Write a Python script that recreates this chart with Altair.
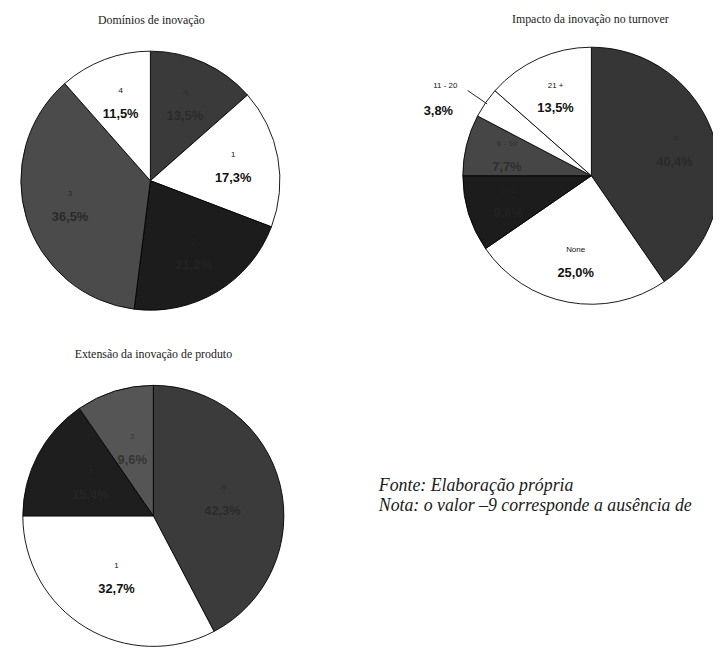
import json
import altair as alt
import pandas as pd

# ---- data ----
cats1 = ["-9", "1", "2", "3", "4"]
vals1 = [13.5, 17.3, 21.2, 36.5, 11.5]

cats2 = ["-9", "None", "1 - 5", "6 - 10", "11 - 20", "21 +"]
vals2 = [40.4, 25.0, 9.6, 7.7, 3.8, 13.5]
outside2 = ["11 - 20"]

cats3 = ["-9", "1", "2", "3"]
vals3 = [42.3, 32.7, 15.4, 9.6]

titles = ["Domínios de inovação", "Impacto da inovação no turnover",
          "Extensão da inovação de produto"]
notes = ["Fonte: Elaboração própria",
         "Nota: o valor –9 corresponde a ausência de"]

# ---- styles ----
cols1 = ["#3a3a3a", "#ffffff", "#1c1c1c", "#4b4b4b", "#ffffff"]
tcols1 = ["#2c2c2c", "#111111", "#222222", "#2a2a2a", "#111111"]
cols2 = ["#363636", "#ffffff", "#1c1c1c", "#464646", "#ffffff", "#ffffff"]
tcols2 = ["#2a2a2a", "#111111", "#222222", "#303030", "#111111", "#111111"]
cols3 = ["#3b3b3b", "#ffffff", "#1e1e1e", "#555555"]
tcols3 = ["#2c2c2c", "#111111", "#252525", "#363636"]

SANS = "Liberation Sans, Arial, sans-serif"
SERIF = "Liberation Serif, Times New Roman, serif"


def pie(cats, vals, cols, tcols, cx, cy, r, rlab, outside=(), rout=160,
        out_dx=(-16, -23), out_dy=(0, 25)):
    df = pd.DataFrame({"cat": cats, "value": vals, "idx": list(range(len(cats)))})
    outs = json.dumps(list(outside))
    base = alt.Chart(df).transform_calculate(
        pct="replace(format(datum.value, '.1f'), '.', ',') + '%'",
    ).transform_calculate(
        catIn=f"indexof({outs}, datum.cat) < 0 ? datum.cat : ''",
        pctIn=f"indexof({outs}, datum.cat) < 0 ? datum.pct : ''",
        catOut=f"indexof({outs}, datum.cat) >= 0 ? datum.cat : ''",
        pctOut=f"indexof({outs}, datum.cat) >= 0 ? datum.pct : ''",
    )
    theta = alt.Theta("value:Q", stack=True)
    order = alt.Order("idx:Q")
    fill = alt.Color("cat:N", scale=alt.Scale(domain=cats, range=cols), legend=None)
    tfill = alt.Color("cat:N", scale=alt.Scale(domain=cats, range=tcols), legend=None)
    X, Y = alt.value(cx), alt.value(cy)

    layers = [
        base.mark_arc(radius=r, stroke="#000000", strokeWidth=0.9).encode(
            theta=theta, order=order, color=fill, x=X, y=Y),
        base.mark_text(radius=rlab, dy=-11, font=SANS, fontSize=8).encode(
            theta=theta, order=order, color=tfill, text="catIn:N", x=X, y=Y),
        base.mark_text(radius=rlab, dy=12, font=SANS, fontSize=13,
                       fontWeight="bold").encode(
            theta=theta, order=order, color=tfill, text="pctIn:N", x=X, y=Y),
    ]
    if outside:
        layers += [
            base.mark_text(radius=rout, dx=out_dx[0], dy=out_dy[0], font=SANS,
                           fontSize=8, color="#111111").encode(
                theta=theta, order=order, text="catOut:N", x=X, y=Y),
            base.mark_text(radius=rout, dx=out_dx[1], dy=out_dy[1], font=SANS,
                           fontSize=13, fontWeight="bold", color="#111111").encode(
                theta=theta, order=order, text="pctOut:N", x=X, y=Y),
            alt.Chart(df).transform_window(
                cum="sum(value)", sort=[alt.SortField("idx", order="ascending")],
                frame=[None, 0],
            ).transform_calculate(
                mid="(datum.cum - datum.value / 2) / 100 * 2 * PI"
            ).transform_filter(
                f"indexof({outs}, datum.cat) >= 0"
            ).transform_calculate(
                lx1=f"{cx} + {r - 2} * sin(datum.mid)",
                ly1=f"{cy} - {r - 2} * cos(datum.mid)",
                lx2=f"{cx} + {r + 22} * sin(datum.mid)",
                ly2=f"{cy} - {r + 22} * cos(datum.mid)",
            ).mark_rule(color="#222222", strokeWidth=1).encode(
                x=alt.X("lx1:Q", scale=None), y=alt.Y("ly1:Q", scale=None),
                x2="lx2:Q", y2="ly2:Q"),
        ]
    return layers


def label(text, x, y, font, size, style="normal", align="center"):
    return alt.Chart(pd.DataFrame({"t": [text]})).mark_text(
        font=font, fontSize=size, fontStyle=style, align=align,
        baseline="middle", color="#1a1a1a",
    ).encode(text="t:N", x=alt.value(x), y=alt.value(y))


layers = []
layers += pie(cats1, vals1, cols1, tcols1, 144, 171, 131, 85)
layers += pie(cats2, vals2, cols2, tcols2, 590, 166, 130, 88, outside=outside2)
layers += pie(cats3, vals3, cols3, tcols3, 147, 510, 132, 72)
layers += [
    label(titles[0], 145, 9, SERIF, 12),
    label(titles[1], 589, 8, SERIF, 12),
    label(titles[2], 147, 346, SERIF, 12),
    label(notes[0], 375, 480, SERIF, 18, "italic", "left"),
    label(notes[1], 375, 500, SERIF, 18, "italic", "left"),
]

chart = alt.layer(*layers).resolve_scale(
    color="independent", theta="independent"
).properties(
    width=713, height=641, padding=0,
    autosize=alt.AutoSizeParams(type="none"),
).configure_view(stroke=None)

chart.save("out.html", embed_options={"renderer": "svg", "actions": False})
